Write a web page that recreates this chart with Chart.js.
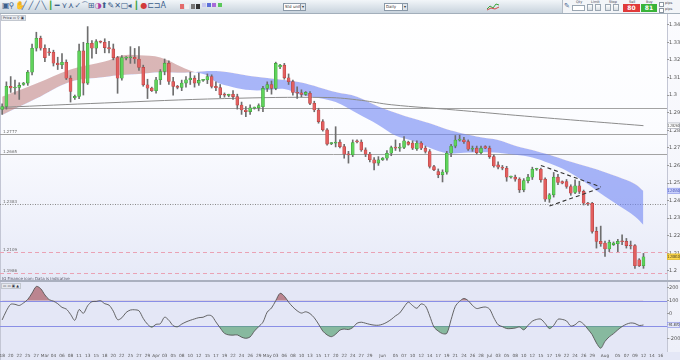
<!DOCTYPE html>
<html>
<head>
<meta charset="utf-8">
<title>GBP/USD daily</title>
<script src="https://cdn.jsdelivr.net/npm/chart.js@4.4.1/dist/chart.umd.min.js"></script>
<style>
  html, body { margin: 0; padding: 0; }
  body { width: 680px; height: 360px; position: relative; overflow: hidden; background: #fff;
         font-family: 'DejaVu Sans', 'Liberation Sans', sans-serif; }
  .abs { position: absolute; }
  #toolbar { left: 0; top: 0; width: 680px; height: 13px; background: linear-gradient(#f2f6f9, #c8d3dd); border-bottom: 1px solid #a3afbb; }
  #pricePane { left: 0; top: 14px; width: 667px; height: 267px; background: linear-gradient(#ffffff 0%, #fbfcff 45%, #e6e9f7 100%); border-left: 1px solid #c3c6d4; box-sizing: border-box; }
  #cciPane { left: 0; top: 281px; width: 680px; height: 79px; background: #e4e7f6; border-left: 1px solid #c3c6d4; box-sizing: border-box; }
  #axisStrip { left: 667px; top: 14px; width: 13px; height: 338px; background: linear-gradient(#fbfbfe, #eef0f9); border-left: 1px solid #c3c6d4; box-sizing: border-box; }
  #sep { left: 0; top: 280px; width: 680px; height: 2px; background: #aab0bf; }
  canvas { position: absolute; left: 0; }
  .ico { position: absolute; top: 1px; font-size: 8px; line-height: 10px; color: #3d5f8c; }
  .drop { position: absolute; top: 3px; height: 6px; background: #fff; border: 1px solid #8a99a8; font-size: 4px; line-height: 6px; padding-left: 1px; color: #333; }
  .drop b { position: absolute; right: 0; top: 0; width: 4px; height: 6px; background: #dfe5ea; border-left: 1px solid #8a99a8; font-size: 4px; text-align: center; }
  .tiny { position: absolute; font-size: 3.5px; line-height: 4px; color: #445; }
  .btn { position: absolute; top: 4px; width: 6px; height: 7px; background: linear-gradient(#fdfdfd, #d9dfe4); border: 1px solid #9aa6b2; box-sizing: border-box; }
  .deal { position: absolute; top: 4px; height: 8px; color: #fff; font-size: 6px; line-height: 8px; font-weight: bold; text-align: center; }
  .tab { position: absolute; background: #e6e9ee; border: 1px solid #c2c7cf; font-size: 3.5px; line-height: 4px; color: #334; padding: 0 1px; }
</style>
</head>
<body>
<div id="pricePane" class="abs"></div>
<div id="cciPane" class="abs"></div>
<div id="axisStrip" class="abs"></div>

<div id="toolbar" class="abs">
  <div class="drop" style="left:283px;width:20px;">Std units<b>▾</b></div>
  <div class="drop" style="left:384px;width:21px;">Daily<b>▾</b></div>
  <svg class="abs" style="left:487px;top:2px" width="12" height="9">
    <polyline points="0,7 3,4 6,6 9,2 12,3" fill="none" stroke="#3aa53a" stroke-width="1"/>
    <polyline points="0,8 4,6 8,7 12,5" fill="none" stroke="#d24a4a" stroke-width="1"/>
  </svg>
  <div class="abs" style="left:562px;top:0;width:118px;height:13px;background:#f3f5f8;border-left:1px solid #b3bcc6;"></div>
  <span class="ico" style="left:564px;font-size:7px;">✎</span>
  <span class="tiny" style="left:576px;top:0;">Qty</span>
  <div class="abs" style="left:572px;top:5px;width:13px;height:6px;background:#fff;border:1px solid #9aa6b2;box-sizing:border-box;"></div>
  <span class="tiny" style="left:591px;top:0;">Limit</span>
  <div class="btn" style="left:587px;"></div><div class="btn" style="left:595px;"></div>
  <span class="tiny" style="left:609px;top:0;">Stop</span>
  <div class="btn" style="left:605px;"></div><div class="btn" style="left:613px;"></div>
  <span class="tiny" style="left:629px;top:0;">Sell</span>
  <div class="deal" style="left:623px;width:17px;background:#e03a3a;">80</div>
  <span class="tiny" style="left:646px;top:0;">Buy</span>
  <div class="deal" style="left:641px;width:16px;background:#39b439;">81</div>
  <div class="abs" style="left:659px;top:2px;width:3px;height:3px;border:1px solid #8a96a2;background:#fff;"></div>
  <div class="abs" style="left:659px;top:8px;width:3px;height:3px;border:1px solid #8a96a2;background:#fff;"></div>
  <span class="tiny" style="left:665px;top:1px;">pips</span>
  <span class="tiny" style="left:665px;top:7px;">pips</span>
</div>

<div class="tab" style="left:1px;top:15px;">Price ▭ ⚲ ▣</div>
<div class="tab" style="left:1px;top:283px;">▭ ▭ ▣ ▲</div>

<canvas id="priceChart" width="680" height="266" style="top:15px"></canvas>
<canvas id="cciChart" width="680" height="79" style="top:281px"></canvas>
<div id="sep" class="abs"></div>

<script>
// --- data (GBP/USD daily, Feb - Aug 2019, IG chart incl. Sunday candles) ---
const slotDates = [
  '02-18','02-19','02-20','02-21','02-22',
  '02-24','02-25','02-26','02-27','02-28','03-01',
  '03-03','03-04','03-05','03-06','03-07','03-08',
  '03-10','03-11','03-12','03-13','03-14','03-15',
  '03-17','03-18','03-19','03-20','03-21','03-22',
  '03-24','03-25','03-26','03-27','03-28','03-29',
  '03-31','04-01','04-02','04-03','04-04','04-05',
  '04-07','04-08','04-09','04-10','04-11','04-12',
  '04-14','04-15','04-16','04-17','04-18','04-19',
  '04-21','04-22','04-23','04-24','04-25','04-26',
  '04-28','04-29','04-30','05-01','05-02','05-03',
  '05-05','05-06','05-07','05-08','05-09','05-10',
  '05-12','05-13','05-14','05-15','05-16','05-17',
  '05-19','05-20','05-21','05-22','05-23','05-24',
  '05-26','05-27','05-28','05-29','05-30','05-31',
  '06-02','06-03','06-04','06-05','06-06','06-07',
  '06-09','06-10','06-11','06-12','06-13','06-14',
  '06-16','06-17','06-18','06-19','06-20','06-21',
  '06-23','06-24','06-25','06-26','06-27','06-28',
  '06-30','07-01','07-02','07-03','07-04','07-05',
  '07-07','07-08','07-09','07-10','07-11','07-12',
  '07-14','07-15','07-16','07-17','07-18','07-19',
  '07-21','07-22','07-23','07-24','07-25','07-26',
  '07-28','07-29','07-30','07-31','08-01','08-02',
  '08-04','08-05','08-06','08-07','08-08','08-09',
  '08-11','08-12','08-13','08-14','08-15','08-16',
  '08-18'
];
const monthNames = ['Jan','Feb','Mar','Apr','May','Jun','Jul','Aug','Sep','Oct','Nov','Dec'];

const opens = [
  1.2918,1.2935,1.3050,1.3040,1.3043,1.3060,1.3068,1.3130,1.3266,1.3323,
  1.3266,1.3245,1.3243,1.3181,1.3172,1.3186,1.3096,1.2985,1.2992,1.3251,
  1.3068,1.3294,1.3266,1.3302,1.3300,1.3270,1.3262,1.3213,1.3096,1.3210,
  1.3212,1.3215,1.3205,1.3157,1.3058,1.3040,1.3025,1.3087,1.3134,1.3181,
  1.3077,1.3049,1.3043,1.3068,1.3087,1.3096,1.3068,1.3083,1.3086,1.3105,
  1.3049,1.3042,1.3001,1.2998,1.3004,1.2991,1.2943,1.2915,1.2906,1.2926,
  1.2928,1.2934,1.3038,1.3060,1.3038,1.3160,1.3170,1.3098,1.3076,1.3015,
  1.3013,1.3004,1.3010,1.2953,1.2915,1.2849,1.2802,1.2724,1.2726,1.2732,
  1.2707,1.2664,1.2660,1.2740,1.2733,1.2688,1.2664,1.2632,1.2613,1.2632,
  1.2641,1.2669,1.2702,1.2698,1.2702,1.2732,1.2727,1.2694,1.2727,1.2698,
  1.2679,1.2594,1.2565,1.2547,1.2562,1.2669,1.2710,1.2744,1.2746,1.2735,
  1.2692,1.2698,1.2673,1.2707,1.2698,1.2650,1.2603,1.2588,1.2584,1.2533,
  1.2533,1.2522,1.2461,1.2514,1.2533,1.2578,1.2578,1.2522,1.2408,1.2433,
  1.2533,1.2508,1.2508,1.2480,1.2446,1.2484,1.2452,1.2385,1.2385,1.2225,
  1.2168,1.2159,1.2125,1.2150,1.2155,1.2168,1.2168,1.2144,1.2144,1.2064,
  1.2030
];
const highs = [
  1.2950,1.3075,1.3105,1.3085,1.3070,1.3072,1.3140,1.3290,1.3357,1.3335,
  1.3285,1.3265,1.3255,1.3215,1.3235,1.3200,1.3110,1.3000,1.3290,1.3300,
  1.3389,1.3310,1.3315,1.3308,1.3320,1.3305,1.3290,1.3220,1.3225,1.3218,
  1.3275,1.3265,1.3275,1.3170,1.3090,1.3045,1.3100,1.3145,1.3205,1.3195,
  1.3100,1.3055,1.3085,1.3105,1.3130,1.3110,1.3125,1.3090,1.3120,1.3115,
  1.3075,1.3060,1.3012,1.3005,1.3025,1.3005,1.2960,1.2935,1.2945,1.2932,
  1.2950,1.3050,1.3075,1.3080,1.3187,1.3175,1.3180,1.3120,1.3085,1.3047,
  1.3030,1.3020,1.3020,1.2965,1.2925,1.2860,1.2810,1.2730,1.2820,1.2745,
  1.2720,1.2680,1.2745,1.2745,1.2745,1.2700,1.2675,1.2645,1.2650,1.2645,
  1.2685,1.2710,1.2745,1.2725,1.2764,1.2738,1.2740,1.2740,1.2735,1.2710,
  1.2690,1.2600,1.2580,1.2575,1.2680,1.2720,1.2770,1.2772,1.2760,1.2745,
  1.2710,1.2710,1.2710,1.2712,1.2710,1.2660,1.2620,1.2600,1.2595,1.2540,
  1.2545,1.2530,1.2525,1.2550,1.2590,1.2584,1.2585,1.2530,1.2440,1.2560,
  1.2550,1.2512,1.2520,1.2490,1.2518,1.2510,1.2460,1.2390,1.2390,1.2249,
  1.2255,1.2170,1.2175,1.2165,1.2180,1.2206,1.2185,1.2170,1.2150,1.2070,
  1.2100
];
const lows = [
  1.2890,1.2920,1.3015,1.3005,1.2975,1.3055,1.3055,1.3115,1.3250,1.3255,
  1.3190,1.3225,1.3165,1.3145,1.3150,1.3088,1.2960,1.2975,1.2980,1.3000,
  1.3060,1.3210,1.3235,1.3296,1.3240,1.3240,1.3200,1.3010,1.3085,1.3200,
  1.3180,1.3180,1.3140,1.3050,1.2980,1.3020,1.3010,1.3060,1.3115,1.3060,
  1.3000,1.3035,1.3025,1.3045,1.3060,1.3045,1.3055,1.3078,1.3065,1.3040,
  1.3025,1.2985,1.2988,1.2990,1.2975,1.2920,1.2890,1.2877,1.2890,1.2920,
  1.2910,1.2905,1.3020,1.3005,1.3030,1.3150,1.3090,1.3060,1.3000,1.2981,
  1.2990,1.2998,1.2945,1.2905,1.2840,1.2795,1.2715,1.2718,1.2705,1.2700,
  1.2641,1.2613,1.2650,1.2728,1.2680,1.2650,1.2620,1.2575,1.2600,1.2628,
  1.2630,1.2655,1.2685,1.2680,1.2695,1.2715,1.2690,1.2685,1.2690,1.2670,
  1.2585,1.2570,1.2530,1.2506,1.2550,1.2650,1.2700,1.2738,1.2725,1.2685,
  1.2680,1.2665,1.2665,1.2695,1.2640,1.2590,1.2580,1.2575,1.2510,1.2528,
  1.2510,1.2446,1.2450,1.2500,1.2520,1.2572,1.2505,1.2395,1.2390,1.2420,
  1.2490,1.2495,1.2470,1.2430,1.2440,1.2440,1.2375,1.2372,1.2215,1.2130,
  1.2140,1.2083,1.2110,1.2145,1.2110,1.2150,1.2130,1.2125,1.2015,1.2025,
  1.2015
];
const closes = [
  1.2935,1.3050,1.3040,1.3043,1.3055,1.3068,1.3130,1.3266,1.3323,1.3266,
  1.3213,1.3240,1.3181,1.3172,1.3186,1.3096,1.3020,1.2992,1.3251,1.3068,
  1.3294,1.3266,1.3304,1.3300,1.3270,1.3262,1.3213,1.3096,1.3213,1.3212,
  1.3215,1.3205,1.3157,1.3058,1.3039,1.3025,1.3087,1.3134,1.3181,1.3077,
  1.3049,1.3043,1.3068,1.3087,1.3096,1.3068,1.3083,1.3086,1.3105,1.3049,
  1.3042,1.3001,1.2999,1.3000,1.2991,1.2943,1.2915,1.2906,1.2928,1.2928,
  1.2940,1.3038,1.3060,1.3038,1.3180,1.3170,1.3098,1.3076,1.3015,1.3010,
  1.3004,1.3015,1.2953,1.2915,1.2849,1.2802,1.2721,1.2726,1.2732,1.2707,
  1.2664,1.2660,1.2730,1.2733,1.2688,1.2664,1.2632,1.2613,1.2632,1.2641,
  1.2669,1.2702,1.2698,1.2702,1.2740,1.2720,1.2698,1.2727,1.2698,1.2679,
  1.2594,1.2575,1.2547,1.2562,1.2669,1.2710,1.2744,1.2746,1.2735,1.2692,
  1.2695,1.2673,1.2698,1.2698,1.2650,1.2597,1.2590,1.2585,1.2533,1.2534,
  1.2522,1.2461,1.2514,1.2533,1.2578,1.2579,1.2518,1.2408,1.2433,1.2533,
  1.2503,1.2499,1.2480,1.2442,1.2484,1.2452,1.2385,1.2380,1.2225,1.2168,
  1.2155,1.2125,1.2163,1.2159,1.2168,1.2166,1.2144,1.2142,1.2030,1.2030,
  1.2081
];

// moving average ribbon (fast / slow), read at sample dates
const ribbonDates = ['02-18','02-27','03-08','03-18','03-22','03-27','04-02','04-08','04-11','04-15',
  '04-17','04-22','04-26','05-01','05-06','05-10','05-15','05-20','05-26','05-31',
  '06-05','06-10','06-14','06-19','06-24','06-28','07-03','07-08','07-12','07-17',
  '07-22','07-26','07-31','08-05','08-09','08-12'];
const ribbonFast = [1.2990,1.3065,1.3145,1.3190,1.3225,1.3226,1.3214,1.3160,1.3131,1.3112,
  1.3074,1.3045,1.3028,1.3028,1.3034,1.3000,1.2983,1.2960,1.2896,1.2830,
  1.2770,1.2740,1.2700,1.2669,1.2672,1.2675,1.2672,1.2660,1.2645,1.2612,
  1.2570,1.2510,1.2440,1.2375,1.2310,1.2262];
const ribbonSlow = [1.2886,1.2980,1.3076,1.3103,1.3114,1.3120,1.3130,1.3127,1.3130,1.3136,
  1.3136,1.3125,1.3108,1.3097,1.3085,1.3071,1.3045,1.3017,1.2991,1.2935,
  1.2900,1.2868,1.2839,1.2805,1.2780,1.2760,1.2745,1.2712,1.2688,1.2660,
  1.2628,1.2600,1.2570,1.2535,1.2495,1.2455];

// long moving average (grey line)
const maDates = ['02-18','03-18','04-19','05-17','05-27','06-04','06-21','07-08','07-25','08-12'];
const maValues = [1.2930,1.2955,1.2980,1.2986,1.2970,1.2945,1.2915,1.2885,1.2855,1.2826];

// dashed triangle drawn on the chart
const triUpperDates = ['07-15','07-31'];
const triUpperValues = [1.2600,1.2478];
const triLowerDates = ['07-17','07-31'];
const triLowerValues = [1.2369,1.2472];

// horizontal levels
const priceLevels = [1.2926, 1.2777, 1.2665, 1.2383, 1.2109, 1.1986];

// oscillator (CCI style), one value per candle
const cciValues = [
  -52,20,71,71,62,82,110,160,212,195,
  145,108,96,76,47,34,-8,-55,30,0,
  60,92,94,100,76,65,17,-50,-35,7,
  26,28,20,-40,-86,-109,-87,-82,-30,-55,
  -97,-106,-85,-68,-55,-44,-34,-31,-16,-20,
  -68,-115,-158,-170,-172,-170,-188,-197,-186,-140,
  -105,-70,10,42,100,158,135,88,50,20,
  2,12,-2,-35,-85,-140,-170,-184,-165,-132,
  -124,-128,-112,-78,-70,-78,-87,-93,-94,-86,
  -70,-48,-20,3,50,88,61,40,74,58,
  -20,-108,-140,-160,-158,-50,55,95,117,100,
  62,38,45,50,34,-35,-90,-105,-120,-120,
  -116,-108,-130,-95,-62,-48,-46,-80,-120,-95,
  -47,-48,-60,-100,-90,-64,-85,-125,-168,-234,
  -275,-221,-185,-160,-130,-104,-86,-76,-80,-96,
  -91.87
];
const cciBands = [100, -100];

const priceTicks = [1.34,1.33,1.32,1.31,1.30,1.29,1.28,1.27,1.26,1.25,1.24,1.23,1.22,1.21,1.20];
const cciTicks = [200,150,100,50,0,-50,-100,-150,-200,-250];

// --- helpers ---
const byDate = (dates, values) => slotDates.map(d => {
  const k = dates.indexOf(d);
  return k < 0 ? null : values[k];
});
const isMonthStart = i => i > 0 && i < slotDates.length && slotDates[i].slice(0, 2) !== slotDates[i - 1].slice(0, 2);
function slotLabel(i) {
  if (isMonthStart(i)) return monthNames[+slotDates[i].slice(0, 2) - 1];
  if (isMonthStart(i - 1) || isMonthStart(i + 1)) return '';
  const [m, d] = slotDates[i].split('-').map(Number);
  const wd = new Date(2019, m - 1, d).getDay();
  return (wd === 1 || wd === 3 || wd === 5) ? slotDates[i].slice(3) : '';
}

// toolbar icons
const iconRow = ['▣','⚲','✋','╱','╱','╱','╲','┃','━','⋎','⋏','✓','⌒','⊞','◑','⬆','✎','✕','▢','◂','┃','●','⊏','⊐','A'];
const iconColors = {'✋':'#d9a520','●':'#d23b3b','┃':'#3aa53a','◑':'#b03aa0'};
const tb = document.getElementById('toolbar');
iconRow.forEach((g, k) => {
  const s = document.createElement('span');
  s.className = 'ico';
  s.style.left = (2 + k * 6.6) + 'px';
  s.style.color = iconColors[g] || '#3d5f8c';
  s.textContent = g;
  tb.appendChild(s);
});
['#e36b6b','#f0f0f0','#777','#333','#c8c8f0','#5b6fd8','#a86bd8','#5ac85a'].forEach((c, k) => {
  const b = document.createElement('div');
  b.className = 'abs';
  b.style.cssText = `left:${180 + k * 5.4}px;top:${k < 4 ? 4 : 3}px;width:4px;height:${k < 4 ? 5 : 4}px;background:${c};`;
  tb.appendChild(b);
});

Chart.defaults.font.family = "'DejaVu Sans', sans-serif";
Chart.defaults.color = '#555';

const GREEN = '#5fd35b', GREEN_EDGE = '#3f9c3c';
const RED = '#e35f5f', RED_EDGE = '#b34545';
const isUp = i => closes[i] >= opens[i];

const levelStyles = [
  { color: '#a3a3a3', width: 1, dash: [], label: false },
  { color: '#a3a3a3', width: 1, dash: [], label: true },
  { color: '#a3a3a3', width: 1, dash: [], label: true },
  { color: '#8a8a8a', width: 1, dash: [1, 1.5], label: true },
  { color: '#eaa2b4', width: 1, dash: [4, 3], label: true },
  { color: '#eaa2b4', width: 1, dash: [4, 3], label: true }
];

function drawTag(ctx, x, py, text, bg, fg, border) {
  ctx.fillStyle = bg;
  ctx.fillRect(x, py - 3, 13, 6);
  if (border) {
    ctx.strokeStyle = border; ctx.lineWidth = 0.6;
    ctx.strokeRect(x + 0.3, py - 2.7, 12.4, 5.4);
  }
  ctx.fillStyle = fg;
  ctx.font = "4.2px 'DejaVu Sans'";
  ctx.textAlign = 'left';
  ctx.textBaseline = 'middle';
  ctx.fillText(text, x + 0.6, py + 0.2, 12);
}

const priceDecor = {
  id: 'priceDecor',
  beforeDatasetsDraw(chart) {
    const { ctx, chartArea: a, scales: { y } } = chart;
    ctx.save();
    priceLevels.forEach((lv, k) => {
      const st = levelStyles[k];
      const py = Math.round(y.getPixelForValue(lv)) + 0.5;
      ctx.strokeStyle = st.color; ctx.lineWidth = st.width; ctx.setLineDash(st.dash);
      ctx.beginPath(); ctx.moveTo(a.left, py); ctx.lineTo(a.right, py); ctx.stroke();
      if (st.label) {
        ctx.setLineDash([]);
        ctx.fillStyle = '#666';
        ctx.font = "4px 'DejaVu Sans'";
        ctx.textBaseline = 'bottom';
        ctx.fillText(lv.toFixed(4), a.left + 3, py - 0.5);
      }
    });
    ctx.restore();
  },
  afterDraw(chart) {
    const { ctx, chartArea: a, scales: { y } } = chart;
    ctx.save();
    drawTag(ctx, a.right, y.getPixelForValue(maValues[maValues.length - 1]),
      maValues[maValues.length - 1].toFixed(5), '#ffffff', '#444', '#9aa0ad');
    drawTag(ctx, a.right, y.getPixelForValue(ribbonSlow[ribbonSlow.length - 1]),
      ribbonSlow[ribbonSlow.length - 1].toFixed(5), '#c9d0fb', '#2b3aa8', '#8d98e8');
    drawTag(ctx, a.right, y.getPixelForValue(closes[closes.length - 1]),
      closes[closes.length - 1].toFixed(5), '#ffd94d', '#222', '#d4ad1f');
    ctx.fillStyle = '#556';
    ctx.font = "4px 'DejaVu Sans'";
    ctx.textBaseline = 'middle';
    ctx.fillText('IG Finance icon: Data is indicative', a.left + 2, a.bottom - 2.5);
    ctx.restore();
  }
};

const cciDecor = {
  id: 'cciDecor',
  beforeDatasetsDraw(chart) {
    const { ctx, chartArea: a, scales: { y } } = chart;
    ctx.save();
    ctx.strokeStyle = '#8a8fe6'; ctx.lineWidth = 1.2;
    cciBands.forEach(v => {
      const py = Math.round(y.getPixelForValue(v)) + 0.5;
      ctx.beginPath(); ctx.moveTo(a.left, py); ctx.lineTo(a.right, py); ctx.stroke();
    });
    ctx.restore();
  },
  afterDraw(chart) {
    const { ctx, chartArea: a, scales: { y } } = chart;
    const last = cciValues[cciValues.length - 1];
    ctx.save();
    drawTag(ctx, a.right, y.getPixelForValue(last), last.toFixed(3), '#e4e7f6', '#333', '#8a8fe6');
    ctx.restore();
  }
};

const rightAxis = (min, max, list) => ({
  position: 'right', min, max,
  grid: { display: true, drawOnChartArea: false, drawTicks: true, tickLength: 2, color: '#999' },
  border: { display: false },
  ticks: { font: { size: 5 }, color: '#555', padding: 0, callback: v => String(+v.toFixed(2)) },
  afterBuildTicks: s => { s.ticks = list.map(v => ({ value: v })); },
  afterFit: s => { s.width = 13; s.paddingTop = 0; s.paddingBottom = 0; }
});

new Chart(document.getElementById('priceChart'), {
  type: 'bar',
  data: {
    labels: slotDates,
    datasets: [
      {
        type: 'line', label: 'fast', data: byDate(ribbonDates, ribbonFast),
        borderColor: 'rgba(0,0,0,0)', borderWidth: 0, pointRadius: 0, spanGaps: true, tension: 0.35,
        fill: { target: '+1', above: 'rgba(188,122,122,0.55)', below: 'rgba(112,134,244,0.6)' }, order: 10
      },
      {
        type: 'line', label: 'slow', data: byDate(ribbonDates, ribbonSlow),
        borderColor: 'rgba(0,0,0,0)', borderWidth: 0, pointRadius: 0, spanGaps: true, tension: 0.35,
        fill: false, order: 11
      },
      {
        type: 'line', label: 'ma', data: byDate(maDates, maValues),
        borderColor: '#8c8c8c', borderWidth: 1, pointRadius: 0, spanGaps: true, tension: 0.4,
        fill: false, order: 5
      },
      {
        label: 'wick', data: highs.map((h, i) => [lows[i], h]),
        backgroundColor: '#6e6e6e', barThickness: 1, grouped: false, minBarLength: 1,
        borderSkipped: false, order: 2
      },
      {
        label: 'body', data: opens.map((o, i) => [o, closes[i]]),
        backgroundColor: c => isUp(c.dataIndex) ? GREEN : RED,
        borderColor: c => isUp(c.dataIndex) ? GREEN_EDGE : RED_EDGE,
        borderWidth: 0.6, borderSkipped: false,
        barThickness: 3, grouped: false, minBarLength: 1, order: 1
      },
      {
        type: 'line', label: 'triUpper', data: byDate(triUpperDates, triUpperValues),
        borderColor: '#333', borderWidth: 1.1, borderDash: [4, 3], pointRadius: 0, spanGaps: true,
        fill: false, order: 0
      },
      {
        type: 'line', label: 'triLower', data: byDate(triLowerDates, triLowerValues),
        borderColor: '#333', borderWidth: 1.1, borderDash: [4, 3], pointRadius: 0, spanGaps: true,
        fill: false, order: 0
      }
    ]
  },
  options: {
    responsive: false, animation: false, devicePixelRatio: 1,
    layout: { padding: 0 },
    plugins: { legend: { display: false }, tooltip: { enabled: false } },
    scales: {
      x: { display: false, offset: true, grid: { display: false } },
      y: rightAxis(1.1943, 1.3455, priceTicks)
    }
  },
  plugins: [priceDecor]
});

new Chart(document.getElementById('cciChart'), {
  type: 'line',
  data: {
    labels: slotDates,
    datasets: [
      {
        label: 'cci', data: cciValues,
        borderColor: '#555', borderWidth: 0.9, pointRadius: 0, tension: 0.3,
        fill: { target: { value: 100 }, above: 'rgba(170,96,104,0.72)', below: 'rgba(0,0,0,0)' }
      },
      {
        label: 'cciLow', data: cciValues,
        borderColor: 'rgba(0,0,0,0)', borderWidth: 0, pointRadius: 0, tension: 0.3,
        fill: { target: { value: -100 }, above: 'rgba(0,0,0,0)', below: 'rgba(92,164,118,0.68)' }
      }
    ]
  },
  options: {
    responsive: false, animation: false, devicePixelRatio: 1,
    layout: { padding: 0 },
    plugins: { legend: { display: false }, tooltip: { enabled: false } },
    scales: {
      x: {
        offset: true,
        grid: { display: false, drawTicks: false },
        border: { display: false },
        ticks: { font: { size: 4.3 }, color: '#555', padding: 1.5, maxRotation: 0, autoSkip: false,
                 callback: (v, i) => slotLabel(i) },
        afterFit: s => { s.height = 8; s.paddingLeft = 0; s.paddingRight = 0; }
      },
      y: rightAxis(-305, 255, cciTicks)
    }
  },
  plugins: [cciDecor]
});
</script>
</body>
</html>
